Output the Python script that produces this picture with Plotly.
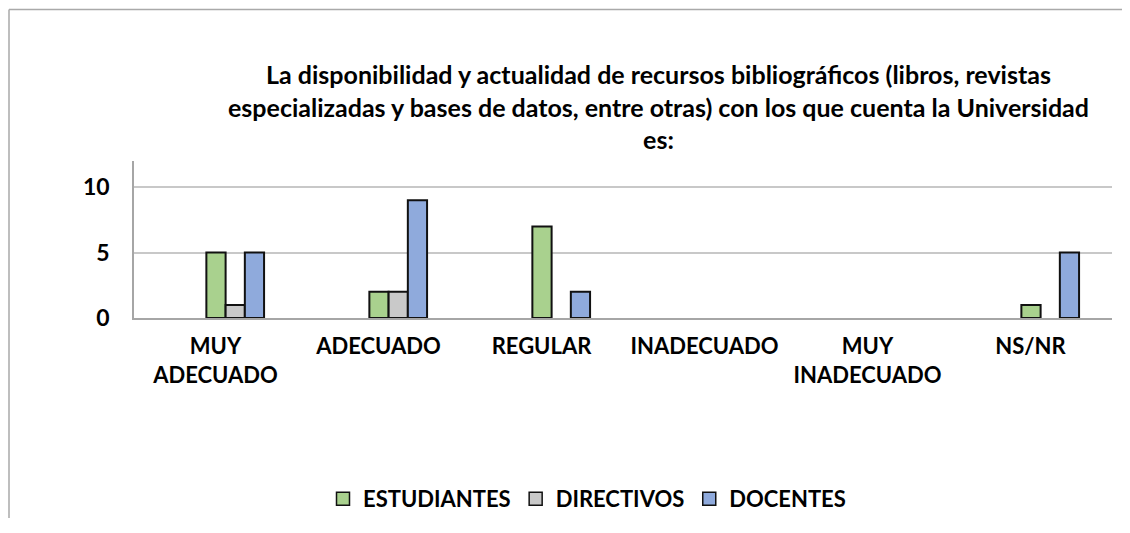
import plotly.graph_objects as go

categories = ["MUY<br>ADECUADO", "ADECUADO", "REGULAR", "INADECUADO", "MUY<br>INADECUADO", "NS/NR"]
estudiantes = [5, 2, 7, 0, 0, 1]
directivos = [1, 2, 0, 0, 0, 0]
docentes = [5, 9, 2, 0, 0, 5]
series_names = ["ESTUDIANTES", "DIRECTIVOS", "DOCENTES"]
series_colors = ["#A9D18E", "#C9C9C9", "#8FAADC"]
y_ticks = [0, 5, 10]

title_text = ("La disponibilidad y actualidad de recursos bibliográficos (libros, revistas<br>"
              "especializadas y bases de datos, entre otras) con los que cuenta la Universidad<br>"
              "es:")

# the page body adds an 8px margin; work in screen pixels and convert
PAGE_MARGIN = 8
SW, SH = 1130, 533
W, H = SW - 2 * PAGE_MARGIN, 510
plot_left, plot_right, plot_top, plot_bottom = 134, 1112, 161, 318  # screen px
L = plot_left - PAGE_MARGIN
R = (W + PAGE_MARGIN) - plot_right
T = plot_top - PAGE_MARGIN
B = (H + PAGE_MARGIN) - plot_bottom
PW = W - L - R
PH = H - T - B

def px_x(sx):
    return (sx - plot_left) / PW

def px_y(sy):
    return (plot_bottom - sy) / PH

def cont_y(sy):
    return 1 - (sy - PAGE_MARGIN) / H

FONT = "Lato"
bar_w = 0.118
offsets = [-0.056, 0.062, 0.180]

fig = go.Figure()
for name, vals, col, off in zip(series_names, [estudiantes, directivos, docentes], series_colors, offsets):
    fig.add_trace(go.Bar(
        x=categories,
        y=[v if v != 0 else None for v in vals],
        name=name,
        marker=dict(color=col, line=dict(color="#111111", width=2)),
        width=bar_w,
        offset=off,
        showlegend=False,
        legendgroup=name,
    ))
# legend swatches (square keys like the original)
for name, col in zip(series_names, series_colors):
    fig.add_trace(go.Scatter(
        x=[None], y=[None], mode="markers", name=name, legendgroup=name,
        marker=dict(symbol="square", size=13, color=col, line=dict(color="#111111", width=1.5)),
    ))

border = dict(color="#A9A9A9", width=1.5)
fig.update_layout(
    width=W, height=H,
    margin=dict(l=L, r=R, t=T, b=B, pad=0, autoexpand=False),
    paper_bgcolor="white", plot_bgcolor="white",
    barmode="overlay",
    font=dict(family=FONT, size=22, color="black", weight="bold"),
    showlegend=True,
    legend=dict(
        orientation="h",
        x=px_x(587), xanchor="center",
        yref="container", y=cont_y(499), yanchor="middle",
        font=dict(family=FONT, size=22, color="black", weight="bold"),
        bgcolor="rgba(0,0,0,0)",
    ),
    xaxis=dict(
        type="category",
        range=[-0.5, 5.5],
        showline=True, linecolor="#A6A6A6", linewidth=1.5,
        showgrid=False, ticks="",
        ticklabelstandoff=8,
        tickfont=dict(family=FONT, size=22, color="black", weight="bold"),
        fixedrange=True,
    ),
    yaxis=dict(
        range=[0, 12],
        tickvals=y_ticks,
        showline=True, linecolor="#A6A6A6", linewidth=1.5,
        showgrid=True, gridcolor="#C8C8C8", gridwidth=1.5,
        zeroline=False,
        ticks="",
        ticklabelstandoff=18,
        tickfont=dict(family=FONT, size=23, color="black", weight="bold"),
        fixedrange=True,
    ),
    annotations=[dict(
        text=title_text,
        x=px_x(658), xref="paper", xanchor="center",
        y=px_y(106), yref="paper", yanchor="middle",
        showarrow=False,
        font=dict(family=FONT, size=25, color="black", weight="bold"),
        align="center",
    )],
    shapes=[
        dict(type="line", xref="paper", yref="paper",
             x0=px_x(9), x1=px_x(1140), y0=px_y(9.5), y1=px_y(9.5), line=border, layer="below"),
        dict(type="line", xref="paper", yref="paper",
             x0=px_x(9), x1=px_x(9), y0=px_y(9.5), y1=px_y(540), line=border, layer="below"),
    ],
)

fig.write_html("out.html")
